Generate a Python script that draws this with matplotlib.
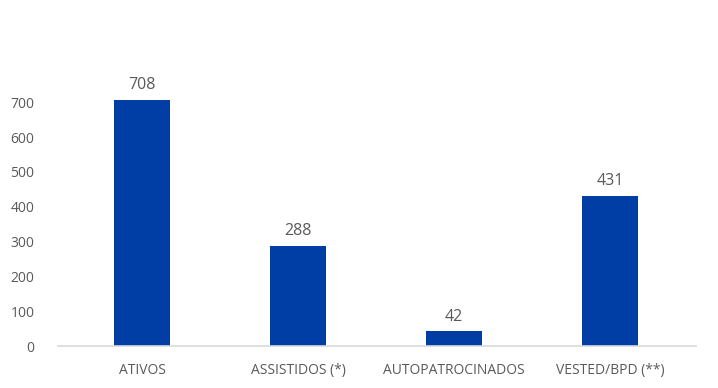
import matplotlib.pyplot as plt
import numpy as np

categorias = ['ATIVOS', 'ASSISTIDOS (*)', 'AUTOPATROCINADOS', 'VESTED/BPD (**)']
valores = [708, 288, 42, 431]
yticks = [0, 100, 200, 300, 400, 500, 600, 700]

plt.rcParams['font.family'] = ['Open Sans', 'DejaVu Sans']
cor_texto = '#595959'
cor_barra = '#003DA5'

fig = plt.figure(figsize=(7.18, 3.88), dpi=100)
ax = fig.add_axes([0.081, 0.108, 0.888, 0.718])

x = np.arange(len(categorias))
barras = ax.bar(x, valores, width=0.36, color=cor_barra)

for xi, v in zip(x, valores):
    ax.annotate(str(v), (xi, v), xytext=(0, 5), textcoords='offset points',
                ha='center', va='bottom', fontsize=11.5, color=cor_texto)

ax.set_xlim(-0.538, 3.551)
ax.set_ylim(0, 800)
ax.set_yticks(yticks)
ax.set_xticks(x)
ax.set_xticklabels(categorias)
ax.tick_params(axis='both', length=0, colors=cor_texto, labelsize=10)
ax.tick_params(axis='y', pad=17)
ax.tick_params(axis='x', pad=12)

for s in ['top', 'right', 'left']:
    ax.spines[s].set_visible(False)
ax.spines['bottom'].set_color('#D9D9D9')
ax.spines['bottom'].set_linewidth(1.2)

fig.savefig('out.png', dpi=100)
